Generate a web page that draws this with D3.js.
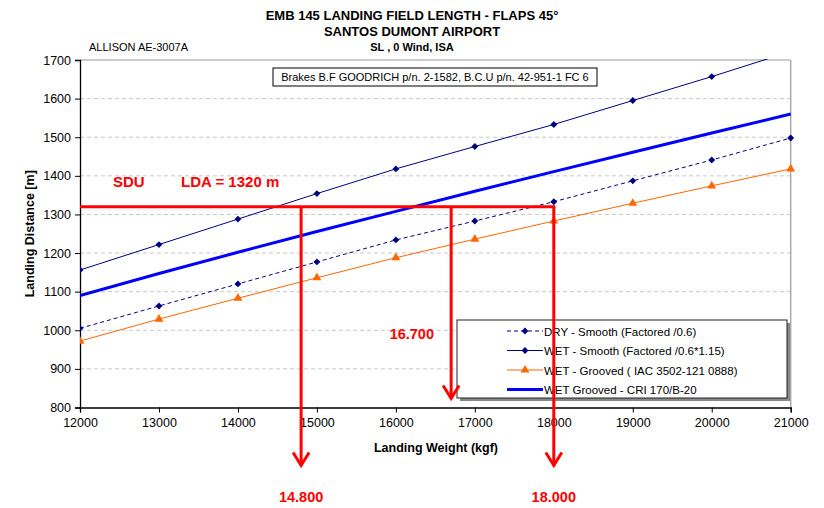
<!DOCTYPE html>
<html>
<head>
<meta charset="utf-8">
<script src="https://cdn.jsdelivr.net/npm/d3@7"></script>
<style>
  body { margin: 0; background: #fff; }
  svg { display: block; }
  text { font-family: "Liberation Sans", Arial, sans-serif; }
</style>
</head>
<body>
<svg id="chart" width="824" height="508"></svg>
<script>
// Landing weight (kgf) for every computed point
const weights = [12000, 13000, 14000, 15000, 16000, 17000, 18000, 19000, 20000, 21000];

// Landing distance (m) per configuration
const drySmooth      = [1005, 1063, 1120, 1177, 1234, 1283, 1333, 1387, 1441, 1498];
const wetSmooth      = [1156, 1222, 1288, 1354, 1418, 1476, 1533, 1595, 1657, 1722];
const wetGroovedIac  = [972, 1029, 1083, 1136, 1188, 1236, 1283, 1329, 1374, 1418];
const wetGroovedCri  = [1090, 1147, 1202, 1256, 1308, 1360, 1411, 1461, 1511, 1560];

const seriesNames = [
  "DRY - Smooth (Factored /0.6)",
  "WET - Smooth (Factored /0.6*1.15)",
  "WET - Grooved ( IAC 3502-121 0888)",
  "WET Grooved - CRI 170/B-20"
];

const xTickValues = [12000, 13000, 14000, 15000, 16000, 17000, 18000, 19000, 20000, 21000];
const yTickValues = [800, 900, 1000, 1100, 1200, 1300, 1400, 1500, 1600, 1700];

// Santos Dumont runway annotation
const ldaValue = 1320;
const cutWeights = [14800, 16700, 18000];
const cutLabels = ["14.800", "16.700", "18.000"];

const svg = d3.select("#chart");
const W = 824, H = 508;
const m = { left: 80, right: 33.3, top: 60, bottom: 100.5 };
const x0 = m.left, x1 = W - m.right, y0 = m.top, y1 = H - m.bottom;

const x = d3.scaleLinear().domain([12000, 21000]).range([x0, x1]);
const y = d3.scaleLinear().domain([800, 1700]).range([y1, y0]);

// Titles
const title = svg.append("g").attr("font-weight", "bold").attr("text-anchor", "middle").attr("fill", "#000");
title.append("text").attr("x", 412).attr("y", 20).attr("font-size", 13)
  .text("EMB 145 LANDING FIELD LENGTH - FLAPS 45°");
title.append("text").attr("x", 412).attr("y", 36).attr("font-size", 13)
  .text("SANTOS DUMONT AIRPORT");
title.append("text").attr("x", 412).attr("y", 51).attr("font-size", 11)
  .text("SL , 0 Wind, ISA");
svg.append("text").attr("x", 89).attr("y", 51).attr("font-size", 11).attr("fill", "#000")
  .text("ALLISON AE-3007A");

// Horizontal dashed grid
svg.append("g").selectAll("line").data(yTickValues.filter(v => v > 800 && v < 1700)).join("line")
  .attr("x1", x0).attr("x2", x1)
  .attr("y1", d => y(d)).attr("y2", d => y(d))
  .attr("stroke", "#c8c8c8").attr("stroke-width", 1).attr("stroke-dasharray", "4,3");

// Plot frame (top & right in grey)
svg.append("line").attr("x1", x0).attr("x2", x1).attr("y1", y0).attr("y2", y0)
  .attr("stroke", "#999").attr("stroke-width", 1);
svg.append("line").attr("x1", x1).attr("x2", x1).attr("y1", y0).attr("y2", y1)
  .attr("stroke", "#aaa").attr("stroke-width", 1.5);

// Axes
const xAxis = svg.append("g").attr("transform", `translate(0,${y1})`)
  .call(d3.axisBottom(x).tickValues(xTickValues).tickSize(5).tickPadding(6).tickFormat(d3.format("d")));
const yAxis = svg.append("g").attr("transform", `translate(${x0},0)`)
  .call(d3.axisLeft(y).tickValues(yTickValues).tickSize(5).tickPadding(4).tickFormat(d3.format("d")));
[xAxis, yAxis].forEach(g => {
  g.select(".domain").attr("stroke", "#000").attr("stroke-width", 1.3);
  g.selectAll(".tick line").attr("stroke", "#000");
  g.selectAll(".tick text").attr("font-size", 12.5).attr("fill", "#000")
    .attr("font-family", '"Liberation Sans", Arial, sans-serif');
});

svg.append("text").attr("x", 436).attr("y", 452).attr("text-anchor", "middle")
  .attr("font-size", 12.5).attr("font-weight", "bold").text("Landing Weight (kgf)");
svg.append("text").attr("transform", `translate(34,${(y0 + y1) / 2}) rotate(-90)`)
  .attr("text-anchor", "middle").attr("font-size", 12.5).attr("font-weight", "bold")
  .text("Landing Distance [m]");

// Brakes note
const note = svg.append("g");
note.append("rect").attr("x", 273).attr("y", 68).attr("width", 324).attr("height", 18)
  .attr("fill", "#fff").attr("stroke", "#000").attr("stroke-width", 1);
note.append("text").attr("x", 435).attr("y", 81).attr("text-anchor", "middle").attr("font-size", 11)
  .text("Brakes B.F GOODRICH p/n. 2-1582, B.C.U p/n. 42-951-1 FC 6");

// Data series
svg.append("defs").append("clipPath").attr("id", "plotClip")
  .append("rect").attr("x", x0).attr("y", y0 - 1).attr("width", x1 - x0 + 6).attr("height", y1 - y0 + 6);

const plot = svg.append("g").attr("clip-path", "url(#plotClip)");
const line = d3.line().x((d, i) => x(weights[i])).y(d => y(d));

const series = [
  { values: drySmooth, color: "#000080", width: 1, dash: "4,3", marker: "diamond" },
  { values: wetSmooth, color: "#000080", width: 1, dash: null, marker: "diamond" },
  { values: wetGroovedIac, color: "#FF6600", width: 1, dash: null, marker: "triangle" },
  { values: wetGroovedCri, color: "#0000FF", width: 3, dash: null, marker: null }
];

const diamond = d3.symbol().type(d3.symbolDiamond2).size(30);
const triangle = d3.symbol().type(d3.symbolTriangle).size(34);

series.forEach(s => {
  plot.append("path").datum(s.values).attr("d", line)
    .attr("fill", "none").attr("stroke", s.color).attr("stroke-width", s.width)
    .attr("stroke-dasharray", s.dash);
  if (s.marker) {
    plot.append("g").selectAll("path").data(s.values).join("path")
      .attr("transform", (d, i) => `translate(${x(weights[i])},${y(d)})`)
      .attr("d", s.marker === "diamond" ? diamond : triangle)
      .attr("fill", s.color);
  }
});

// Legend
const lg = svg.append("g");
const lgX = 457, lgY = 320, lgW = 330, lgH = 78;
lg.append("rect").attr("x", lgX + 3).attr("y", lgY + 3).attr("width", lgW).attr("height", lgH).attr("fill", "#888");
lg.append("rect").attr("x", lgX).attr("y", lgY).attr("width", lgW).attr("height", lgH)
  .attr("fill", "#fff").attr("stroke", "#222").attr("stroke-width", 1);
series.forEach((s, i) => {
  const ry = lgY + 11 + i * 19.5;
  lg.append("line").attr("x1", 507).attr("x2", 543).attr("y1", ry).attr("y2", ry)
    .attr("stroke", s.color).attr("stroke-width", s.width).attr("stroke-dasharray", s.dash);
  if (s.marker) {
    lg.append("path").attr("transform", `translate(525,${ry})`)
      .attr("d", s.marker === "diamond" ? diamond : triangle).attr("fill", s.color);
  }
  lg.append("text").attr("x", 544).attr("y", ry + 4.5).attr("font-size", 11.5).attr("fill", "#000")
    .text(seriesNames[i]);
});

// Runway length construction lines
const red = "#FF0000";
const ann = svg.append("g").attr("stroke", red).attr("stroke-width", 3).attr("fill", "none");
const yLda = y(ldaValue);
ann.append("line").attr("x1", x0).attr("x2", x(d3.max(cutWeights)) + 1.5)
  .attr("y1", yLda).attr("y2", yLda);

const arrowEnds = [y1 + 58, y1 - 9, y1 + 58];
cutWeights.forEach((w, i) => {
  const cx = x(w), tip = arrowEnds[i];
  ann.append("line").attr("x1", cx).attr("x2", cx).attr("y1", yLda).attr("y2", tip);
  ann.append("path").attr("d", `M${cx - 8},${tip - 13} L${cx},${tip} L${cx + 8},${tip - 13}`)
    .attr("stroke-linejoin", "miter");
});

const lab = svg.append("g").attr("fill", red).attr("font-weight", "bold");
lab.append("text").attr("x", 113).attr("y", 187).attr("font-size", 15).text("SDU");
lab.append("text").attr("x", 181).attr("y", 187).attr("font-size", 15).text(`LDA = ${ldaValue} m`);
lab.append("text").attr("x", 434).attr("y", 339).attr("text-anchor", "end").attr("font-size", 14.5).text(cutLabels[1]);
lab.append("text").attr("x", x(cutWeights[0])).attr("y", 502).attr("text-anchor", "middle").attr("font-size", 14.5).text(cutLabels[0]);
lab.append("text").attr("x", x(cutWeights[2])).attr("y", 502).attr("text-anchor", "middle").attr("font-size", 14.5).text(cutLabels[2]);
</script>
</body>
</html>
